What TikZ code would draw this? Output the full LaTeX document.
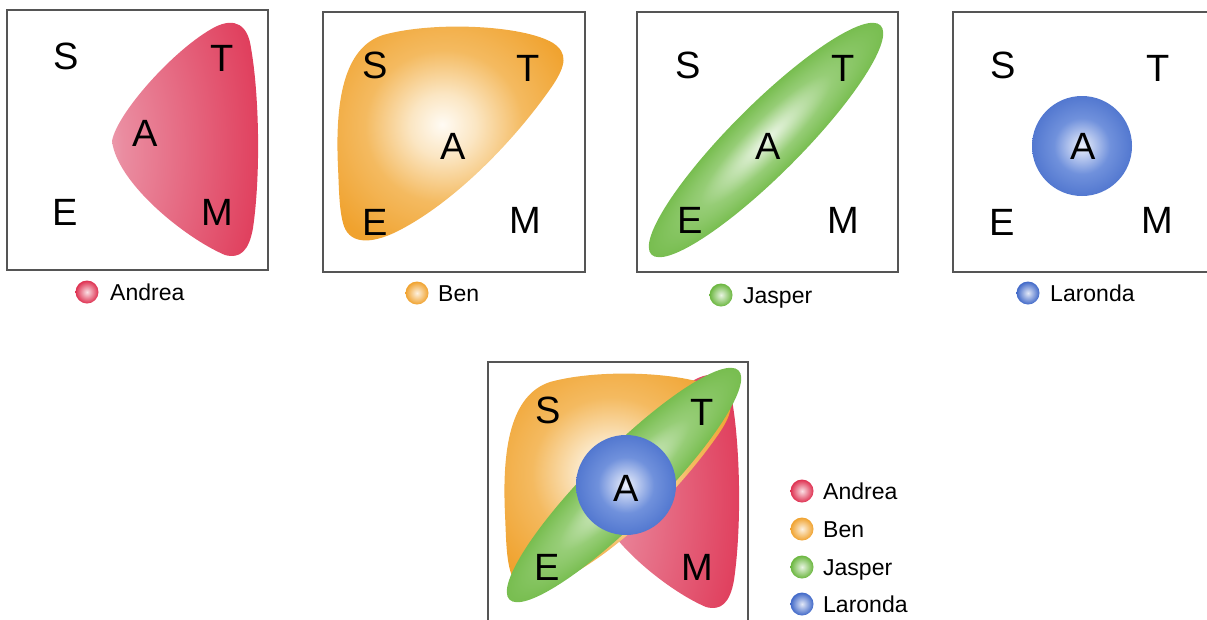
\documentclass[tikz,border=0pt]{standalone}
\usepackage{fontspec}
\setmainfont{Liberation Sans}

% palette
\definecolor{redC}{RGB}{222,48,80}
\definecolor{redM}{RGB}{234,140,160}
\definecolor{redL}{RGB}{244,216,224}
\definecolor{orC}{RGB}{240,162,46}
\definecolor{orM}{RGB}{244,186,96}
\definecolor{orS}{RGB}{251,230,195}
\definecolor{orL}{RGB}{255,251,244}
\definecolor{grC}{RGB}{106,182,62}
\definecolor{grM}{RGB}{150,205,118}
\definecolor{grL}{RGB}{236,246,230}
\definecolor{blC}{RGB}{64,104,200}
\definecolor{blM}{RGB}{112,145,220}
\definecolor{blL}{RGB}{236,240,252}
\definecolor{frameC}{RGB}{85,85,85}

% shadings of the four regions
\pgfdeclareradialshading{andreaShade}{\pgfpoint{-45bp}{-3bp}}{%
  color(0bp)=(redL); color(18bp)=(redM); color(60bp)=(redC); color(140bp)=(redC)}
\pgfdeclareradialshading{benShade}{\pgfpoint{-2bp}{2bp}}{%
  color(0bp)=(orL); color(7bp)=(orS); color(17bp)=(orM); color(30bp)=(orC); color(80bp)=(orC)}
\pgfdeclareradialshading{jasperShade}{\pgfpoint{0bp}{0bp}}{%
  color(0bp)=(grL); color(14bp)=(grM); color(30bp)=(grC); color(60bp)=(grC)}
\pgfdeclareradialshading{larondaShade}{\pgfpoint{0bp}{0bp}}{%
  color(0bp)=(blL); color(14bp)=(blM); color(32bp)=(blC); color(50bp)=(blC)}

\tikzset{
  panel/.style={draw=frameC, line width=1.2pt},
  letter/.style={font=\fontsize{38}{40}\selectfont, inner sep=0pt, anchor=center},
  legtext/.style={font=\fontsize{23}{26}\selectfont, inner sep=0pt, anchor=base west},
  legdot/.style={inner color=white!85!#1, outer color=#1},
  andreaBlob/.pic={
    \shade[shading=andreaShade]
      (-33,8) .. controls (-28,-20) and (30,-85) .. (70,-106)
      .. controls (90,-116) and (103,-108) .. (106,-85)
      .. controls (114,-40) and (116,40) .. (108,95)
      .. controls (104,118) and (95,126) .. (80,122)
      .. controls (40,105) and (-28,50) .. (-33,8) -- cycle;
  },
  benBlob/.pic={
    \shade[shading=benShade]
      (-115,24) .. controls (-118,-40) and (-110,-95) .. (-70,-108)
      .. controls (-20,-122) and (70,-118) .. (100,-100)
      .. controls (115,-90) and (113,-78) .. (100,-58)
      .. controls (60,0) and (0,60) .. (-55,88)
      .. controls (-85,103) and (-105,100) .. (-110,80)
      .. controls (-114,65) and (-114,45) .. (-115,24) -- cycle;
  },
  larondaBlob/.pic={
    \shade[shading=larondaShade] (0,0) circle [radius=50pt];
  },
}

\begin{document}
\begin{tikzpicture}[x=1pt, y=-1pt]
\useasboundingbox (0,0) rectangle (1207,619);
\clip (0,0) rectangle (1207,619);

% ---------- Andrea ----------
\pic at (145,133) {andreaBlob};
\draw[panel] (7,10) rectangle (268,270);
\node[letter] (s1) at (66,56) {S};
\node[letter] (t1) at (222,58) {T};
\node[letter] (a1) at (145,133) {A};
\node[letter] (e1) at (65,212) {E};
\node[letter] (m1) at (217,212) {M};
\shade[legdot=redC] (87,292) circle [radius=11.5pt];
\node[legtext] (l1) at (110,300) {Andrea};

% ---------- Ben ----------
\pic at (453,143) {benBlob};
\draw[panel] (323,12) rectangle (585,272);
\node[letter] (s2) at (375,65) {S};
\node[letter] (t2) at (528,68) {T};
\node[letter] (a2) at (453,146) {A};
\node[letter] (e2) at (375,222) {E};
\node[letter] (m2) at (525,220) {M};
\shade[legdot=orC] (417,293) circle [radius=11.5pt];
\node[legtext] (l2) at (438,301) {Ben};

% ---------- Jasper ----------
\begin{scope}[transform canvas={shift={(766,140)}, rotate=45}]
  \shade[shading=jasperShade] (0,0) ellipse [x radius=162pt, y radius=35pt];
\end{scope}
\draw[panel] (637,12) rectangle (898,272);
\node[letter] (s3) at (688,65) {S};
\node[letter] (t3) at (843,68) {T};
\node[letter] (a3) at (768,146) {A};
\node[letter] (e3) at (690,220) {E};
\node[letter] (m3) at (843,220) {M};
\shade[legdot=grC] (721,295) circle [radius=11.5pt];
\node[legtext] (l3) at (743,303) {Jasper};

% ---------- Laronda ----------
\pic at (1082,146) {larondaBlob};
\draw[panel] (953,12) rectangle (1215,272);
\node[letter] (s4) at (1003,65) {S};
\node[letter] (t4) at (1158,68) {T};
\node[letter] (a4) at (1083,146) {A};
\node[letter] (e4) at (1002,222) {E};
\node[letter] (m4) at (1157,220) {M};
\shade[legdot=blC] (1028,293) circle [radius=11.5pt];
\node[legtext] (l4) at (1050,301) {Laronda};

% ---------- all four together ----------
\pic at (626,485) {andreaBlob};
\pic at (620,490) {benBlob};
\begin{scope}[transform canvas={shift={(624,485)}, rotate=45}]
  \shade[shading=jasperShade] (0,0) ellipse [x radius=162pt, y radius=35pt];
\end{scope}
\pic at (626,485) {larondaBlob};
\draw[panel] (488,362) rectangle (748,640);
\node[letter] (s5) at (548,410) {S};
\node[letter] (t5) at (702,412) {T};
\node[letter] (a5) at (626,488) {A};
\node[letter] (e5) at (547,567) {E};
\node[letter] (m5) at (697,567) {M};

% combined key
\shade[legdot=redC] (802,491) circle [radius=11.5pt];
\node[legtext] (k1) at (823,499) {Andrea};
\shade[legdot=orC] (802,529) circle [radius=11.5pt];
\node[legtext] (k2) at (823,537) {Ben};
\shade[legdot=grC] (802,567) circle [radius=11.5pt];
\node[legtext] (k3) at (823,575) {Jasper};
\shade[legdot=blC] (802,604) circle [radius=11.5pt];
\node[legtext] (k4) at (823,612) {Laronda};
\end{tikzpicture}
\end{document}
